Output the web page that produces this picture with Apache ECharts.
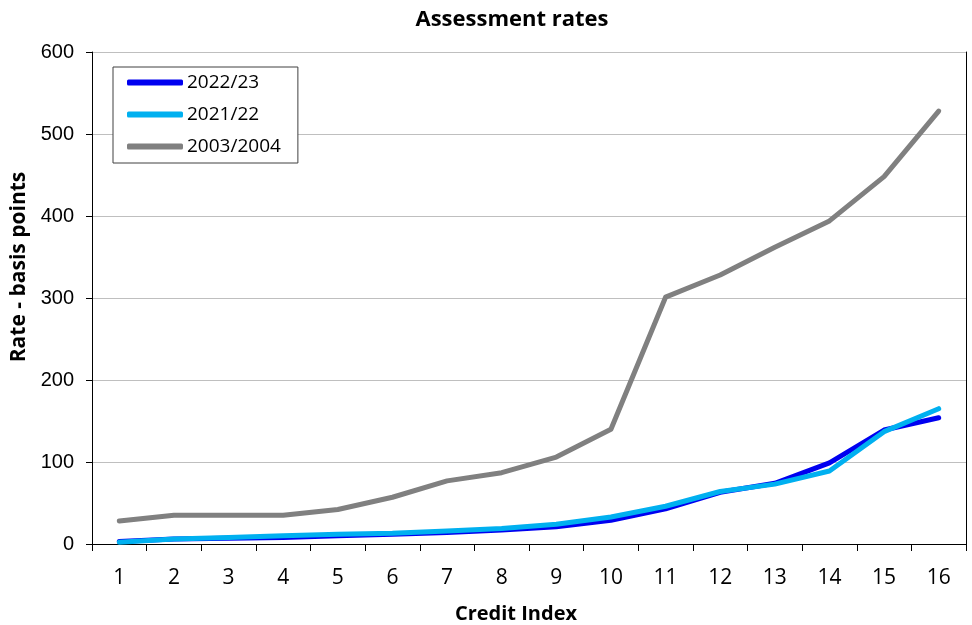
<!DOCTYPE html>
<html><head><meta charset="utf-8">
<script src="https://cdn.jsdelivr.net/npm/echarts@6/dist/echarts.min.js"></script>
<style>html,body{margin:0;padding:0;background:#fff}#c{width:972px;height:625px}</style>
</head><body><div id="c"></div>
<script>
const categories = ['1','2','3','4','5','6','7','8','9','10','11','12','13','14','15','16'];
const s2022 = [3, 6, 7, 8, 10, 12, 14, 17, 21, 29, 43, 63, 74, 99, 139, 154];
const s2021 = [2, 6, 8, 10, 12, 13, 16, 19, 24, 33, 46, 64, 73, 89, 137, 165];
const s2003 = [28, 35, 35, 35, 42, 57, 77, 87, 106, 140, 301, 328, 362, 394, 448, 528];
const seriesNames = ['2022/23', '2021/22', '2003/2004'];
const colors = ['#0000f0', '#00b0f0', '#808080'];
const FONT = 'Open Sans';
const FONT_Y = 'Liberation Sans';
const chart = echarts.init(document.getElementById('c'));
const mk = (name, data, color, z) => ({
  name, type: 'line', data, z, symbol: 'none', smooth: false,
  lineStyle: { color, width: 5, cap: 'round', join: 'round' },
  itemStyle: { color }
});
chart.setOption({
  animation: false,
  title: { text: 'Assessment rates', left: 507, top: 4, textAlign: 'center',
    textStyle: { fontFamily: FONT, fontWeight: 'bold', fontSize: 22, color: '#000' } },
  grid: { left: 92, right: 6, top: 52, bottom: 81, show: false, outerBoundsMode: 'none', containLabel: false },
  legend: {
    orient: 'vertical', left: 113, top: 67,
    padding: [6, 17, 7, 14], itemGap: 13, itemWidth: 56, itemHeight: 6,
    borderColor: '#404040', borderWidth: 1, backgroundColor: '#fff',
    icon: 'roundRect',
    data: seriesNames.map((n, i) => ({ name: n, itemStyle: { color: colors[i] } })),
    textStyle: { fontFamily: FONT, fontSize: 19, color: '#000', lineHeight: 19, padding: [0, 0, 0, -1] }
  },
  xAxis: [{
    type: 'category', data: categories, boundaryGap: true,
    name: 'Credit Index', nameLocation: 'middle', nameGap: 60,
    nameTextStyle: { fontFamily: FONT, fontWeight: 'bold', fontSize: 20, color: '#000', padding: [0, 26, 0, 0] },
    axisLine: { lineStyle: { color: '#000', width: 1 } },
    axisTick: { show: true, length: 7, lineStyle: { color: '#000' } },
    axisLabel: { fontFamily: FONT, fontSize: 21, color: '#000', margin: 24 },
    splitLine: { show: false }
  }, {
    type: 'category', data: categories, position: 'top',
    axisLine: { show: true, lineStyle: { color: '#000', width: 1 } },
    axisTick: { show: false }, axisLabel: { show: false }, splitLine: { show: false }
  }],
  yAxis: [{
    type: 'value', min: 0, max: 600, interval: 100,
    name: 'Rate - basis points', nameLocation: 'middle', nameGap: 56,
    nameTextStyle: { fontFamily: FONT, fontWeight: 'bold', fontSize: 21, color: '#000', padding: [0, 0, 0, 62] },
    axisLine: { show: true, lineStyle: { color: '#000', width: 1 } },
    axisTick: { show: true, length: 6, lineStyle: { color: '#000' } },
    axisLabel: { fontFamily: FONT_Y, fontSize: 20, color: '#000', margin: 18 },
    splitLine: { show: true, lineStyle: { color: '#bfbfbf', width: 1 } }
  }, {
    type: 'value', min: 0, max: 600, interval: 100, position: 'right',
    axisLine: { show: true, lineStyle: { color: '#000', width: 1 } },
    axisTick: { show: false }, axisLabel: { show: false }, splitLine: { show: false }
  }],
  series: [
    mk(seriesNames[2], s2003, colors[2], 2),
    mk(seriesNames[0], s2022, colors[0], 3),
    mk(seriesNames[1], s2021, colors[1], 4)
  ]
});
</script></body></html>
